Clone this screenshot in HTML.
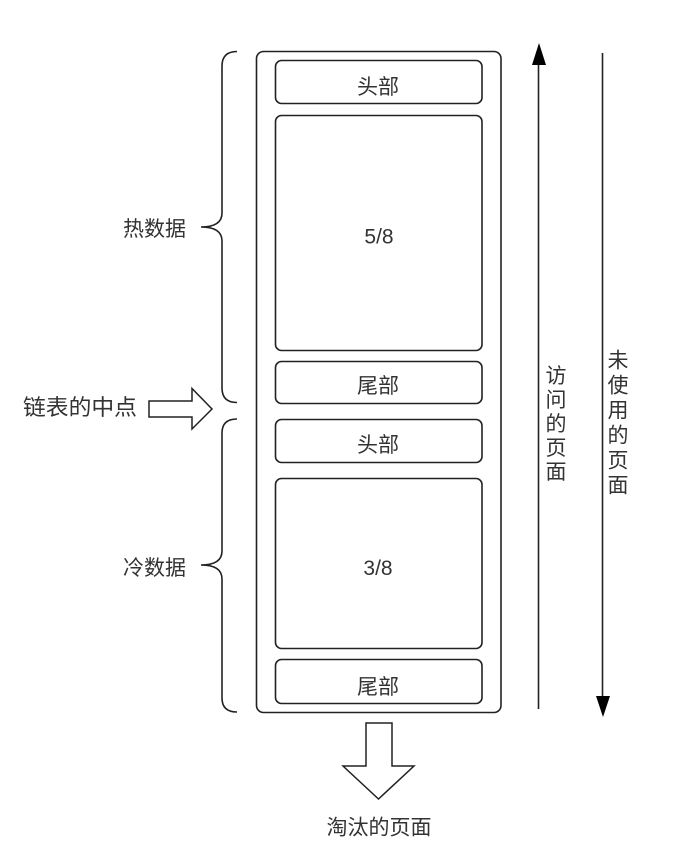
<!DOCTYPE html>
<html>
<head>
<meta charset="utf-8">
<style>
  html, body { margin: 0; padding: 0; background: #fff; }
  svg { display: block; }
  text { font-family: "Liberation Sans", "Noto Sans CJK SC", sans-serif; fill: #333; }
</style>
</head>
<body>
<svg width="692" height="850" viewBox="0 0 692 850" xmlns="http://www.w3.org/2000/svg">
  <rect x="0" y="0" width="692" height="850" fill="#fff"/>

  <!-- outer container -->
  <rect x="256.5" y="51.5" width="244.5" height="661" rx="7" ry="7" fill="none" stroke="#222" stroke-width="1.6"/>

  <!-- inner boxes -->
  <rect x="275.5" y="60.5" width="206.5" height="43" rx="6" ry="6" fill="none" stroke="#222" stroke-width="1.6"/>
  <rect x="275.5" y="115.5" width="206.5" height="235" rx="6" ry="6" fill="none" stroke="#222" stroke-width="1.6"/>
  <rect x="275.5" y="361.5" width="206.5" height="42" rx="6" ry="6" fill="none" stroke="#222" stroke-width="1.6"/>
  <rect x="275.5" y="419.5" width="206.5" height="43" rx="6" ry="6" fill="none" stroke="#222" stroke-width="1.6"/>
  <rect x="275.5" y="478.5" width="206.5" height="170" rx="6" ry="6" fill="none" stroke="#222" stroke-width="1.6"/>
  <rect x="275.5" y="659.5" width="206.5" height="44" rx="6" ry="6" fill="none" stroke="#222" stroke-width="1.6"/>

  <!-- box labels -->
  <text x="378" y="94" font-size="21" text-anchor="middle">头部</text>
  <text x="379" y="243.5" font-size="21" text-anchor="middle">5/8</text>
  <text x="378" y="393" font-size="21" text-anchor="middle">尾部</text>
  <text x="378" y="452" font-size="21" text-anchor="middle">头部</text>
  <text x="378" y="575" font-size="21" text-anchor="middle">3/8</text>
  <text x="378" y="694" font-size="21" text-anchor="middle">尾部</text>

  <!-- braces -->
  <path d="M237,51.5 Q222,51.5 222,66 L222,213 Q222,227 201,227 Q222,227 222,241 L222,388 Q222,402.5 237,402.5" fill="none" stroke="#222" stroke-width="1.6"/>
  <path d="M237,419 Q222,419 222,433 L222,551 Q222,565 201,565 Q222,565 222,579 L222,698 Q222,712 237,712" fill="none" stroke="#222" stroke-width="1.6"/>

  <text x="123" y="236" font-size="21" textLength="63" lengthAdjust="spacingAndGlyphs">热数据</text>
  <text x="123" y="575" font-size="21" textLength="63" lengthAdjust="spacingAndGlyphs">冷数据</text>

  <!-- midpoint arrow -->
  <text x="23" y="415" font-size="22" textLength="114" lengthAdjust="spacingAndGlyphs">链表的中点</text>
  <polygon points="149,401 192,401 192,388.5 212,409 192,429 192,417 149,417" fill="#fff" stroke="#222" stroke-width="1.5" stroke-linejoin="miter"/>

  <!-- visited pages arrow (up) -->
  <line x1="538.5" y1="62" x2="538.5" y2="709" stroke="#222" stroke-width="1.6"/>
  <polygon points="539,43 546,65 532,65" fill="#000"/>
  <g font-size="21" text-anchor="middle">
    <text x="556" y="383">访</text>
    <text x="556" y="407">问</text>
    <text x="556" y="431">的</text>
    <text x="556" y="455">页</text>
    <text x="556" y="479">面</text>
  </g>

  <!-- unused pages arrow (down) -->
  <line x1="602.5" y1="53" x2="602.5" y2="700" stroke="#222" stroke-width="1.6"/>
  <polygon points="596,696 610,696 603,717" fill="#000"/>
  <g font-size="21" text-anchor="middle">
    <text x="618" y="367.5">未</text>
    <text x="618" y="392.5">使</text>
    <text x="618" y="417.5">用</text>
    <text x="618" y="442.5">的</text>
    <text x="618" y="467.5">页</text>
    <text x="618" y="492.5">面</text>
  </g>

  <!-- evicted pages arrow -->
  <polygon points="366,723 392,723 392,766 414,766 378.5,799 343,766 366,766" fill="#fff" stroke="#222" stroke-width="1.5" stroke-linejoin="miter"/>
  <text x="379" y="834.5" font-size="21" text-anchor="middle" textLength="105" lengthAdjust="spacingAndGlyphs">淘汰的页面</text>
</svg>
</body>
</html>
